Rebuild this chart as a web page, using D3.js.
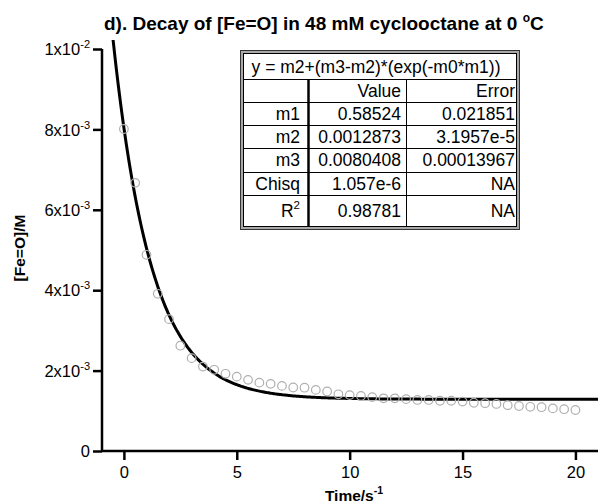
<!DOCTYPE html>
<html>
<head>
<meta charset="utf-8">
<script src="https://cdn.jsdelivr.net/npm/d3@7"></script>
<style>
  body { margin: 0; background: #fff; }
  svg { font-family: "Liberation Sans", Arial, sans-serif; }
</style>
</head>
<body>
<svg id="chart" width="598" height="504"></svg>
<script>
// measured points (time in s, [Fe=O] in M)
const time = [0, 0.5, 1, 1.5, 2, 2.5, 3, 3.5, 4, 4.5, 5, 5.5, 6, 6.5, 7, 7.5, 8, 8.5, 9, 9.5,
  10, 10.5, 11, 11.5, 12, 12.5, 13, 13.5, 14, 14.5, 15, 15.5, 16, 16.5, 17, 17.5, 18, 18.5, 19, 19.5, 20]
const conc = [8.01e-3, 6.67e-3, 4.88e-3, 3.91e-3, 3.28e-3, 2.62e-3, 2.31e-3, 2.10e-3, 2.02e-3, 1.92e-3,
  1.85e-3, 1.77e-3, 1.70e-3, 1.67e-3, 1.62e-3, 1.58e-3, 1.575e-3, 1.52e-3, 1.48e-3, 1.41e-3,
  1.39e-3, 1.37e-3, 1.34e-3, 1.31e-3, 1.31e-3, 1.29e-3, 1.27e-3, 1.27e-3, 1.25e-3, 1.25e-3,
  1.23e-3, 1.20e-3, 1.19e-3, 1.17e-3, 1.14e-3, 1.12e-3, 1.10e-3, 1.09e-3, 1.06e-3, 1.04e-3, 1.02e-3]

// fit parameters
const m1 = 0.58524, m2 = 0.0012873, m3 = 0.0080408

const xTicks = [0, 5, 10, 15, 20]
const yTicks = [0, 0.002, 0.004, 0.006, 0.008, 0.01]

const tableHead = 'y = m2+(m3-m2)*(exp(-m0*m1))'
const colNames = ['', 'Value', 'Error']
const rowNames = ['m1', 'm2', 'm3', 'Chisq', 'R2']
const rowValues = ['0.58524', '0.0012873', '0.0080408', '1.057e-6', '0.98781']
const rowErrors = ['0.021851', '3.1957e-5', '0.00013967', 'NA', 'NA']

let svg = d3.select('#chart')

let x = d3.scaleLinear().domain([-0.97, 21]).range([102, 598])
let y = d3.scaleLinear().domain([0, 0.01]).range([451, 49])

// title
let title = svg.append('text')
  .attr('x', 104).attr('y', 30)
  .attr('font-size', 19).attr('font-weight', 'bold')
  .text('d). Decay of [Fe=O] in 48 mM cyclooctane at 0 ')
title.append('tspan').attr('font-size', 12).attr('dy', -8).text('o')
title.append('tspan').attr('dy', 8).text('C')

// fitted curve
let clip = svg.append('clipPath').attr('id', 'plotclip')
clip.append('rect').attr('x', 102).attr('y', 40).attr('width', 496).attr('height', 411)

let fitT = d3.range(-1, 21.05, 0.05)
svg.append('path')
  .datum(fitT)
  .attr('clip-path', 'url(#plotclip)')
  .attr('fill', 'none')
  .attr('stroke', 'black')
  .attr('stroke-width', 3)
  .attr('d', d3.line().x(t => x(t)).y(t => y(m2 + (m3 - m2) * Math.exp(-m1 * t))))

// data points
svg.append('g').selectAll('circle')
  .data(time)
  .join('circle')
  .attr('cx', d => x(d))
  .attr('cy', (d, i) => y(conc[i]))
  .attr('r', 4.3)
  .attr('fill', 'none')
  .attr('stroke', '#b0b0b0')
  .attr('stroke-width', 1.2)

// axes
let xAxis = svg.append('g')
  .attr('transform', 'translate(0,451)')
  .call(d3.axisBottom(x).tickValues(xTicks).tickSize(9).tickPadding(4))
let yAxis = svg.append('g')
  .attr('transform', 'translate(102,0)')
  .call(d3.axisLeft(y).tickValues(yTicks).tickSize(9).tickPadding(3).tickFormat(() => ''))

for (let ax of [xAxis, yAxis]) {
  ax.attr('font-size', 16.5).attr('font-family', '"Liberation Sans", Arial, sans-serif')
  ax.select('.domain').attr('stroke-width', 2.5)
  ax.selectAll('.tick line').attr('stroke-width', 2.5)
  ax.selectAll('text').attr('fill', '#000')
}
xAxis.select('.domain').attr('d', 'M102,0H598')
yAxis.select('.domain').attr('d', 'M0,49V451')
xAxis.selectAll('.tick text').attr('dy', '0.85em')

// y tick labels with exponents
yAxis.selectAll('.tick text').each(function (d) {
  let t = d3.select(this).attr('x', -12).attr('dy', '0.35em')
  if (d === 0) { t.text('0'); return }
  let e = Math.floor(Math.log10(d) + 1e-9)
  let m = Math.round(d / Math.pow(10, e))
  t.text(m + 'x10')
  t.append('tspan').attr('font-size', 11).attr('dy', -7).text(e)
})

// axis titles
let xt = svg.append('text')
  .attr('x', 354).attr('y', 501)
  .attr('text-anchor', 'middle')
  .attr('font-size', 15.5).attr('font-weight', 'bold')
  .text('Time/s')
xt.append('tspan').attr('font-size', 10.5).attr('dy', -7).text('-1')

svg.append('text')
  .attr('transform', 'translate(25,248) rotate(-90)')
  .attr('text-anchor', 'middle')
  .attr('font-size', 15.5).attr('font-weight', 'bold')
  .text('[Fe=O]/M')

// parameter table
let tb = svg.append('g')
tb.append('rect').attr('x', 240.5).attr('y', 50.5).attr('width', 279).attr('height', 179)
  .attr('fill', '#a8a8a8').attr('stroke', '#333').attr('stroke-width', 1)
tb.append('rect').attr('x', 243.5).attr('y', 53.5).attr('width', 273).attr('height', 173)
  .attr('fill', 'white').attr('stroke', 'black').attr('stroke-width', 1)

let rowLines = [79, 102, 125, 148, 172, 195]
rowLines.forEach(v => tb.append('line').attr('x1', 243.5).attr('x2', 516.5)
  .attr('y1', v + 0.5).attr('y2', v + 0.5).attr('stroke', 'black'))
tb.append('line').attr('x1', 308.5).attr('x2', 308.5).attr('y1', 79).attr('y2', 227)
  .attr('stroke', 'black').attr('stroke-width', 2.5)
tb.append('line').attr('x1', 406.5).attr('x2', 406.5).attr('y1', 79).attr('y2', 227)
  .attr('stroke', 'black').attr('stroke-width', 1)

let fs = 17.5
tb.append('text').attr('x', 376).attr('y', 73).attr('text-anchor', 'middle')
  .attr('font-size', fs).text(tableHead)

let colRight = [300, 401, 515]
colNames.forEach((c, i) => tb.append('text').attr('x', colRight[i]).attr('y', 97)
  .attr('text-anchor', 'end').attr('font-size', fs).text(c))

let rowBase = [120, 143, 166, 190, 217]
rowNames.forEach((r, i) => {
  let t = tb.append('text').attr('x', colRight[0]).attr('y', rowBase[i])
    .attr('text-anchor', 'end').attr('font-size', fs)
  if (r === 'R2') {
    t.text('R').append('tspan').attr('font-size', 11.5).attr('dy', -8).text('2')
  } else t.text(r)
  tb.append('text').attr('x', colRight[1]).attr('y', rowBase[i])
    .attr('text-anchor', 'end').attr('font-size', fs).text(rowValues[i])
  tb.append('text').attr('x', colRight[2]).attr('y', rowBase[i])
    .attr('text-anchor', 'end').attr('font-size', fs).text(rowErrors[i])
})
</script>
</body>
</html>
